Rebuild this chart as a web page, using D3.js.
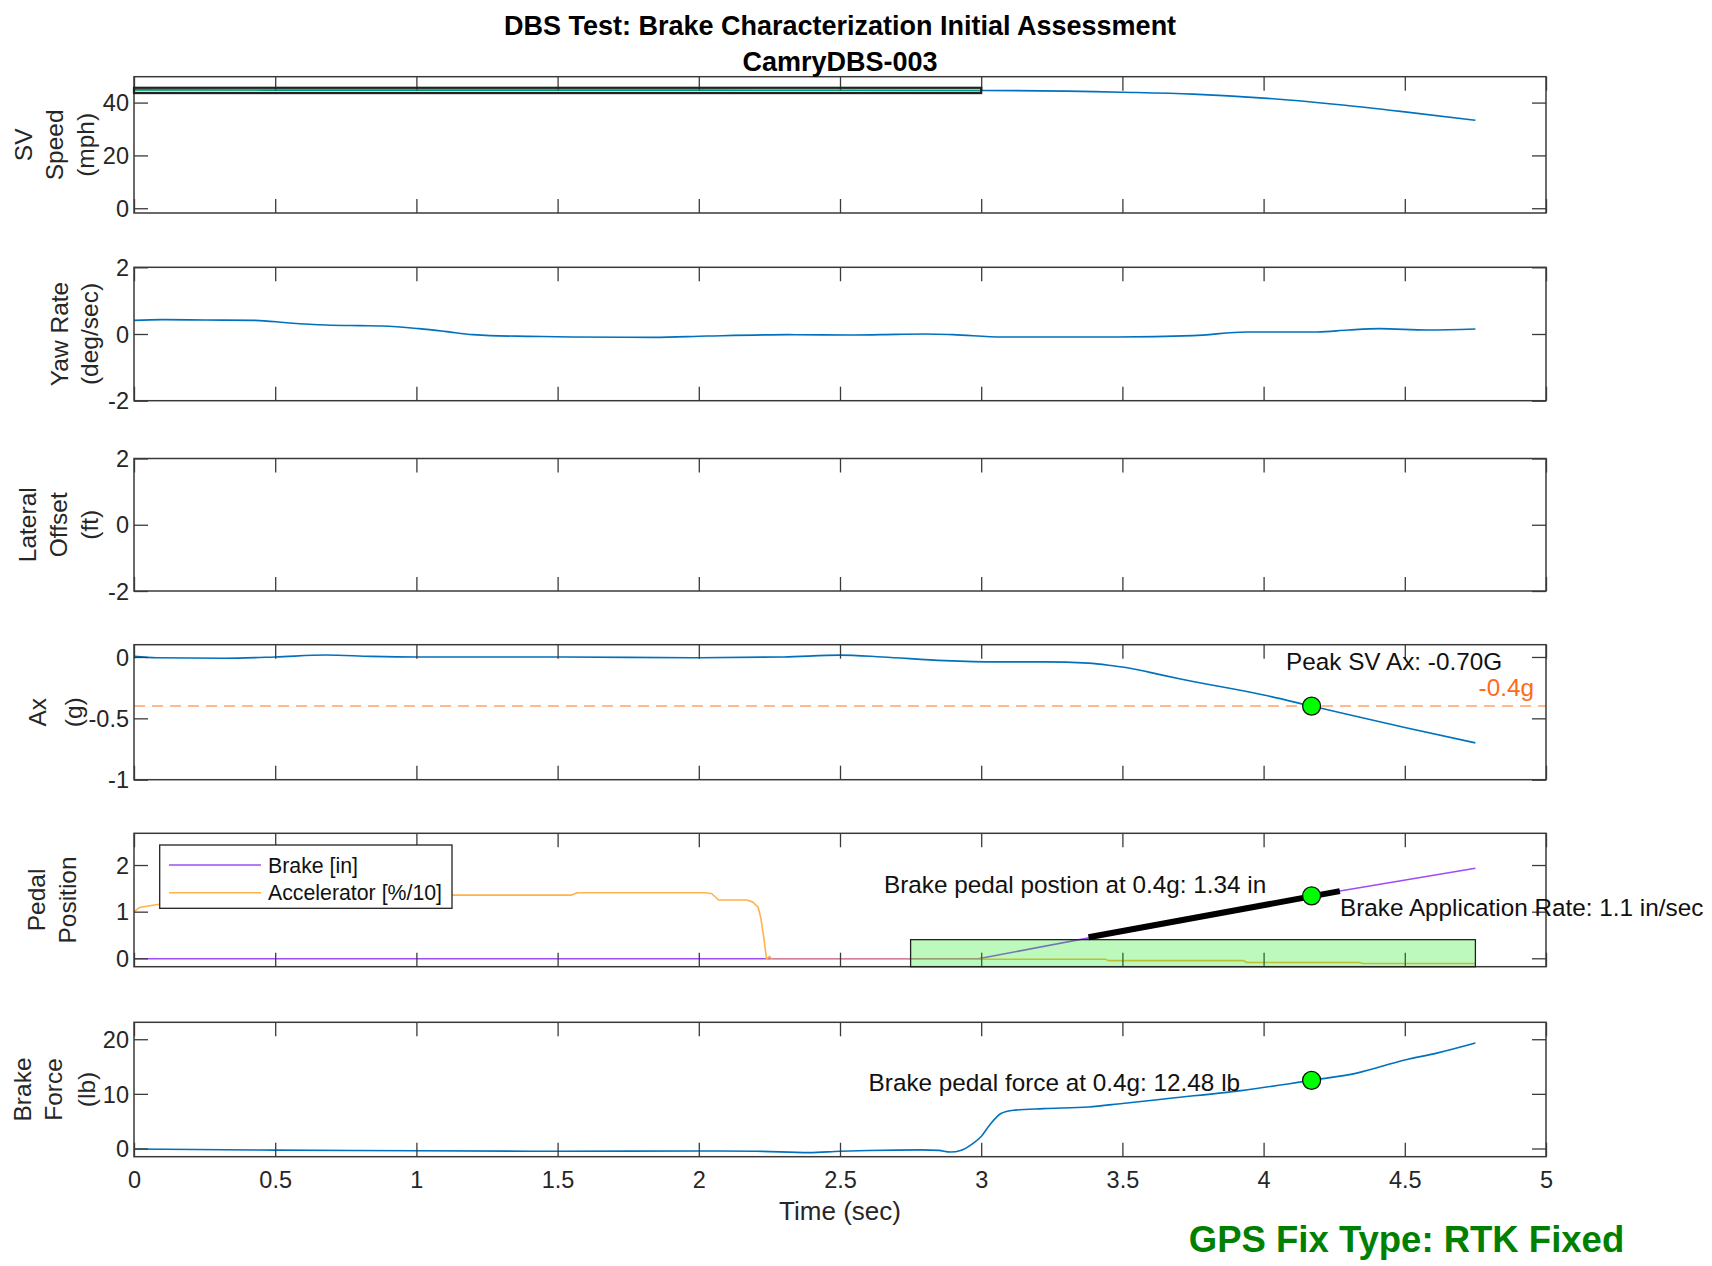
<!DOCTYPE html>
<html>
<head>
<meta charset="utf-8">
<script src="https://cdn.jsdelivr.net/npm/d3@7"></script>
<style>
  body { margin: 0; background: #fff; }
  svg { display: block; }
  text { font-family: "Liberation Sans", Arial, Helvetica, sans-serif; fill: #262626; }
</style>
</head>
<body>
<svg id="chart" width="1712" height="1266"></svg>
<script>
// ---------- data ----------
const timeTicks = [0, 0.5, 1, 1.5, 2, 2.5, 3, 3.5, 4, 4.5, 5];
const timeTickLabels = ["0", "0.5", "1", "1.5", "2", "2.5", "3", "3.5", "4", "4.5", "5"];

// subject-vehicle speed (mph)
const speedT = [0, 1, 2, 3, 3.5, 3.75, 4.0, 4.26, 4.5, 4.75];
const speedV = [44.8, 44.7, 44.7, 44.6, 43.9, 43.2, 41.7, 39.3, 36.5, 33.3];
const speedBandT = [0, 3];
const speedBandV = [43.6, 45.6];
const speedTicks = [0, 20, 40];

// yaw rate (deg/sec)
const yawT = [0, 0.1, 0.25, 0.43, 0.55, 0.68, 0.8, 0.88, 1.01, 1.1, 1.2, 1.26, 1.4, 1.55, 1.84, 2.03, 2.32, 2.55, 2.7, 2.805, 2.9, 3.075, 3.3, 3.48, 3.75, 3.94, 4.05, 4.19, 4.3, 4.41, 4.58, 4.75];
const yawV = [0.41, 0.43, 0.42, 0.41, 0.33, 0.27, 0.25, 0.24, 0.16, 0.08, -0.02, -0.05, -0.07, -0.09, -0.10, -0.06, -0.02, -0.03, -0.01, 0.0, -0.02, -0.09, -0.09, -0.09, -0.05, 0.06, 0.06, 0.06, 0.12, 0.16, 0.12, 0.15];
const yawTicks = [-2, 0, 2];

// lateral offset (ft) - no samples
const offsetTicks = [-2, 0, 2];

// longitudinal acceleration (g)
const axT = [0, 0.08, 0.32, 0.5, 0.68, 0.84, 1.0, 1.5, 2.0, 2.3, 2.5, 2.65, 2.87, 3.06, 3.22, 3.38, 3.46, 3.545, 3.625, 3.706, 4.0, 4.17, 4.5, 4.75];
const axV = [0.005, -0.006, -0.01, 0.0, 0.016, 0.005, 0.0, 0.0, -0.006, 0.0, 0.015, 0.0, -0.03, -0.04, -0.04, -0.05, -0.07, -0.10, -0.14, -0.18, -0.31, -0.40, -0.575, -0.70];
const axThreshold = -0.4;
const axPeak = -0.70;
const axTicks = [-1, -0.5, 0];

// pedal positions
const brakeT = [0, 2.99, 4.17, 4.75];
const brakeV = [-0.01, -0.01, 1.34, 1.93];
const accelT = [0, 0.02, 0.05, 0.09, 0.15, 0.25, 0.35, 1.55, 1.57, 2.02, 2.045, 2.07, 2.17, 2.19, 2.21, 2.22, 2.23, 2.24, 2.25, 2.26, 2.27, 3.44, 3.45, 3.93, 3.94, 4.34, 4.35, 4.75];
const accelV = [1.0, 1.09, 1.12, 1.16, 1.22, 1.3, 1.355, 1.355, 1.405, 1.405, 1.39, 1.25, 1.25, 1.21, 1.1, 0.85, 0.45, -0.02, 0.04, -0.02, -0.02, -0.02, -0.05, -0.05, -0.09, -0.09, -0.11, -0.11];
const brakeWindowT = [2.75, 4.75];
const brakeWindowV = [-0.18, 0.4];
const rateFitT = [3.38, 4.27];
const rateFitV = [0.45, 1.44];
const pedalTicks = [0, 1, 2];
const pedalLegend = ["Brake [in]", "Accelerator [%/10]"];

// brake pedal force (lb)
const forceT = [0, 0.5, 1.0, 1.5, 2.0, 2.2, 2.39, 2.5, 2.6, 2.786, 2.85, 2.89, 2.93, 2.97, 3.0, 3.03, 3.07, 3.115, 3.22, 3.38, 3.5, 3.67, 3.92, 4.17, 4.33, 4.5, 4.617, 4.75];
const forceV = [-0.1, -0.3, -0.4, -0.5, -0.45, -0.5, -0.75, -0.5, -0.37, -0.25, -0.35, -0.65, -0.3, 0.9, 2.2, 4.3, 6.4, 7.0, 7.3, 7.6, 8.25, 9.2, 10.6, 12.48, 13.8, 16.2, 17.5, 19.3];
const forceTicks = [0, 10, 20];

// values at the 0.4 g crossing
const crossT = 4.17;
const crossPedal = 1.34;
const crossForce = 12.48;
const applicationRate = 1.1;

// ---------- layout ----------
const svg = d3.select("#chart");
const X0 = 134, X1 = 1546;
const x = d3.scaleLinear().domain([0, 5]).range([X0, X1]);
const TICK = 14;
const FRAME = "#3a3a3a";
const BLUE = "#0072BD";
const BRAKE = "#a04cf6";
const ACCEL = "#ffb347";
const MARK = "#00ff00";

const panels = [
  { top: 76.7,  bottom: 213,   domain: [-1.8, 49.8], ticks: speedTicks,  label: ["SV", "Speed", "(mph)"], lx: [24, 55, 86] },
  { top: 267.3, bottom: 400.7, domain: [-2, 2],      ticks: yawTicks,    label: ["Yaw Rate", "(deg/sec)"], lx: [60, 90] },
  { top: 458.5, bottom: 591,   domain: [-2, 2],      ticks: offsetTicks, label: ["Lateral", "Offset", "(ft)"], lx: [28, 59, 90] },
  { top: 644.7, bottom: 779.7, domain: [-1, 0.1],    ticks: axTicks,     label: ["Ax", "(g)"], lx: [38, 74] },
  { top: 833.3, bottom: 966.7, domain: [-0.18, 2.68], ticks: pedalTicks, label: ["Pedal", "Position"], lx: [37, 68] },
  { top: 1022.3, bottom: 1156.7, domain: [-1.5, 23.1], ticks: forceTicks, label: ["Brake", "Force", "(lb)"], lx: [23, 54, 87] }
];

const tickFmt = d => (d === 0 ? "0" : String(d));

panels.forEach((p, i) => {
  p.y = d3.scaleLinear().domain(p.domain).range([p.bottom, p.top]);
  p.g = svg.append("g").attr("class", "panel-" + i);
  p.data = p.g.append("g");
  p.over = p.g.append("g");
});

function drawAxes(p, isLast) {
  const g = p.g.append("g").attr("class", "axes");
  // left ticks + labels
  g.append("g").attr("transform", `translate(${X0},0)`)
    .call(d3.axisLeft(p.y).tickValues(p.ticks).tickFormat(tickFmt).tickSizeInner(-TICK).tickSizeOuter(0).tickPadding(5))
    .call(a => a.select(".domain").remove())
    .call(a => a.selectAll("line").attr("stroke", FRAME).attr("stroke-width", 1.3))
    .call(a => a.selectAll("text").attr("font-size", 23.5).attr("fill", "#262626").attr("font-family", null).attr("dy", "0.35em"));
  // right ticks
  g.append("g").attr("transform", `translate(${X1},0)`)
    .call(d3.axisRight(p.y).tickValues(p.ticks).tickFormat("").tickSizeInner(-TICK).tickSizeOuter(0))
    .call(a => a.select(".domain").remove())
    .call(a => a.selectAll("line").attr("stroke", FRAME).attr("stroke-width", 1.3));
  // top ticks
  g.append("g").attr("transform", `translate(0,${p.top})`)
    .call(d3.axisTop(x).tickValues(timeTicks).tickFormat("").tickSizeInner(-TICK).tickSizeOuter(0))
    .call(a => a.select(".domain").remove())
    .call(a => a.selectAll("line").attr("stroke", FRAME).attr("stroke-width", 1.3));
  // bottom ticks
  g.append("g").attr("transform", `translate(0,${p.bottom})`)
    .call(d3.axisBottom(x).tickValues(timeTicks)
      .tickFormat(isLast ? ((d, k) => timeTickLabels[k]) : "")
      .tickSizeInner(-TICK).tickSizeOuter(0).tickPadding(15))
    .call(a => a.select(".domain").remove())
    .call(a => a.selectAll("line").attr("stroke", FRAME).attr("stroke-width", 1.3))
    .call(a => a.selectAll("text").attr("font-size", 23.5).attr("fill", "#262626").attr("font-family", null));
  // box
  g.append("rect")
    .attr("x", X0).attr("y", p.top)
    .attr("width", X1 - X0).attr("height", p.bottom - p.top)
    .attr("fill", "none").attr("stroke", FRAME).attr("stroke-width", 1.5);
  // y label, one rotated line per entry
  const cy = (p.top + p.bottom) / 2;
  p.label.forEach((t, k) => {
    g.append("text")
      .attr("transform", `translate(${p.lx[k] + 8},${cy}) rotate(-90)`)
      .attr("text-anchor", "middle")
      .attr("font-size", 24.5)
      .text(t);
  });
}

const smooth = d3.curveMonotoneX;
function series(p, T, V, color, width, curve) {
  const line = d3.line().x((d, k) => x(T[k])).y(d => p.y(d)).curve(curve || d3.curveLinear);
  return p.data.append("path")
    .datum(V)
    .attr("d", line)
    .attr("fill", "none")
    .attr("stroke", color)
    .attr("stroke-width", width)
    .attr("stroke-linejoin", "round");
}

function marker(p, t, v) {
  p.over.append("circle")
    .attr("cx", x(t)).attr("cy", p.y(v)).attr("r", 9)
    .attr("fill", MARK).attr("stroke", "#111").attr("stroke-width", 1.3);
}

function note(p, px, py, str, opts = {}) {
  p.over.append("text")
    .attr("x", px).attr("y", py)
    .attr("font-size", opts.size || 24.3)
    .attr("text-anchor", opts.anchor || "start")
    .style("fill", opts.color || "#111")
    .text(str);
}

// ---------- panel 1: speed ----------
{
  const p = panels[0];
  series(p, speedT, speedV, BLUE, 1.6, smooth);
  p.over.append("rect")
    .attr("x", x(speedBandT[0])).attr("y", p.y(speedBandV[1]))
    .attr("width", x(speedBandT[1]) - x(speedBandT[0]))
    .attr("height", p.y(speedBandV[0]) - p.y(speedBandV[1]))
    .attr("fill", "rgb(0,230,0)").attr("fill-opacity", 0.3)
    .attr("stroke", "#222").attr("stroke-width", 2.2);
}

// ---------- panel 2: yaw rate ----------
series(panels[1], yawT, yawV, BLUE, 1.6, smooth);

// ---------- panel 4: Ax ----------
{
  const p = panels[3];
  p.data.append("line")
    .attr("x1", X0).attr("x2", X1)
    .attr("y1", p.y(axThreshold)).attr("y2", p.y(axThreshold))
    .attr("stroke", "#ffa366").attr("stroke-width", 1.6)
    .attr("stroke-dasharray", "11,7");
  series(p, axT, axV, BLUE, 1.6, smooth);
  marker(p, crossT, axThreshold);
  note(p, 1286, 670.4, `Peak SV Ax: ${axPeak.toFixed(2)}G`);
  note(p, 1534, 696, `${axThreshold}g`, { anchor: "end", color: "#ff6a1a" });
}

// ---------- panel 5: pedal positions ----------
{
  const p = panels[4];
  series(p, brakeT, brakeV, BRAKE, 1.6);
  series(p, accelT, accelV, ACCEL, 1.6);
  p.over.append("rect")
    .attr("x", x(brakeWindowT[0])).attr("y", p.y(brakeWindowV[1]))
    .attr("width", x(brakeWindowT[1]) - x(brakeWindowT[0]))
    .attr("height", p.y(brakeWindowV[0]) - p.y(brakeWindowV[1]))
    .attr("fill", "rgb(0,230,0)").attr("fill-opacity", 0.26)
    .attr("stroke", "#222").attr("stroke-width", 1.3);
  p.over.append("line")
    .attr("x1", x(rateFitT[0])).attr("y1", p.y(rateFitV[0]))
    .attr("x2", x(rateFitT[1])).attr("y2", p.y(rateFitV[1]))
    .attr("stroke", "#000").attr("stroke-width", 6);
  marker(p, crossT, crossPedal);
  note(p, 884, 892.7, `Brake pedal postion at 0.4g: ${crossPedal.toFixed(2)} in`);
  note(p, 1340, 916.2, `Brake Application Rate: ${applicationRate.toFixed(1)} in/sec`);

  // legend
  const lg = p.over.append("g");
  lg.append("rect")
    .attr("x", 159.7).attr("y", 845).attr("width", 292.3).attr("height", 63.3)
    .attr("fill", "#fff").attr("stroke", "#222").attr("stroke-width", 1.3);
  [[BRAKE, 865], [ACCEL, 892.7]].forEach(([c, yy], k) => {
    lg.append("line").attr("x1", 169).attr("x2", 261).attr("y1", yy).attr("y2", yy)
      .attr("stroke", c).attr("stroke-width", 1.6);
    lg.append("text").attr("x", 268).attr("y", yy + 7.6)
      .attr("font-size", 21.3).style("fill", "#111").text(pedalLegend[k]);
  });
}

// ---------- panel 6: brake force ----------
{
  const p = panels[5];
  series(p, forceT, forceV, BLUE, 1.6, smooth);
  marker(p, crossT, crossForce);
  note(p, 868.6, 1091.2, `Brake pedal force at 0.4g: ${crossForce.toFixed(2)} lb`);
}

panels.forEach((p, i) => drawAxes(p, i === panels.length - 1));
// keep overlays (annotations, markers) above the frame
panels.forEach(p => p.over.raise());

// ---------- titles ----------
svg.append("text").attr("x", (X0 + X1) / 2).attr("y", 35.3)
  .attr("text-anchor", "middle").attr("font-size", 27).attr("font-weight", "bold").style("fill", "#000")
  .text("DBS Test: Brake Characterization Initial Assessment");
svg.append("text").attr("x", (X0 + X1) / 2).attr("y", 70.5)
  .attr("text-anchor", "middle").attr("font-size", 27).attr("font-weight", "bold").style("fill", "#000")
  .text("CamryDBS-003");
svg.append("text").attr("x", (X0 + X1) / 2).attr("y", 1220)
  .attr("text-anchor", "middle").attr("font-size", 26).text("Time (sec)");
svg.append("text").attr("x", 1406.5).attr("y", 1252)
  .attr("text-anchor", "middle").attr("font-size", 36.5).attr("font-weight", "bold").style("fill", "#008000")
  .text("GPS Fix Type: RTK Fixed");
</script>
</body>
</html>
